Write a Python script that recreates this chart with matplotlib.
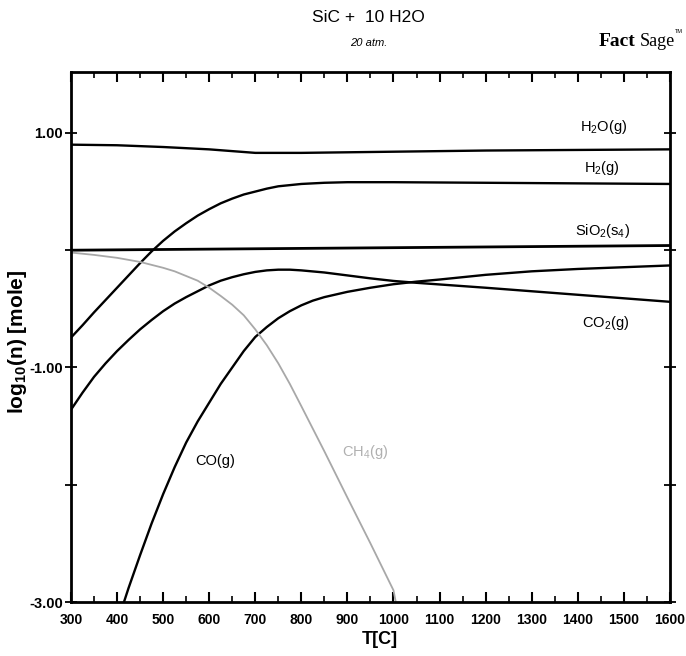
import matplotlib
matplotlib.use('Agg')
import matplotlib.pyplot as plt
from matplotlib.ticker import MultipleLocator

plt.rcParams['font.family'] = ['Liberation Sans', 'DejaVu Sans']
plt.rcParams['mathtext.default'] = 'regular'

# Equilibrium amounts, log10(n) vs temperature
T_h2o = [300, 400, 500, 600, 650, 700, 800, 900, 1000, 1200, 1400, 1600]
h2o = [0.90, 0.895, 0.88, 0.86, 0.845, 0.83, 0.83, 0.835, 0.84, 0.85, 0.855, 0.86]

T_h2 = [300, 325, 350, 375, 400, 425, 450, 475, 500, 525, 550, 575, 600, 625, 650, 675,
        700, 725, 750, 775, 800, 850, 900, 1000, 1200, 1400, 1600]
h2 = [-0.745, -0.64, -0.53, -0.425, -0.32, -0.215, -0.11, -0.01, 0.08, 0.16, 0.23, 0.295,
      0.35, 0.40, 0.44, 0.475, 0.50, 0.525, 0.545, 0.555, 0.565, 0.575, 0.58, 0.58, 0.575,
      0.57, 0.565]

T_sio2 = [300, 1600]
sio2 = [0.0, 0.04]

T_co2 = [300, 325, 350, 375, 400, 425, 450, 475, 500, 525, 550, 575, 600, 625, 650, 675,
         700, 725, 750, 775, 800, 850, 900, 950, 1000, 1050, 1100, 1200, 1300, 1400, 1500, 1600]
co2 = [-1.36, -1.215, -1.08, -0.965, -0.86, -0.765, -0.675, -0.595, -0.52, -0.455, -0.40, -0.35,
       -0.30, -0.26, -0.23, -0.205, -0.185, -0.172, -0.166, -0.166, -0.172, -0.19, -0.215,
       -0.24, -0.262, -0.278, -0.292, -0.32, -0.35, -0.38, -0.41, -0.44]

T_co = [415, 425, 450, 475, 500, 525, 550, 575, 600, 625, 650, 675, 700, 725, 750, 775,
        800, 825, 850, 900, 950, 1000, 1050, 1100, 1200, 1300, 1400, 1500, 1600]
co = [-3.0, -2.88, -2.6, -2.33, -2.08, -1.85, -1.64, -1.46, -1.30, -1.14, -1.00, -0.86,
      -0.74, -0.655, -0.58, -0.52, -0.47, -0.43, -0.40, -0.355, -0.32, -0.29, -0.268,
      -0.25, -0.21, -0.18, -0.16, -0.145, -0.13]

T_ch4 = [300, 350, 400, 450, 500, 525, 550, 575, 600, 625, 650, 675, 700, 725, 750, 775,
         800, 850, 900, 950, 1000, 1005]
ch4 = [-0.02, -0.04, -0.065, -0.10, -0.15, -0.18, -0.22, -0.26, -0.32, -0.39, -0.465, -0.555,
       -0.675, -0.81, -0.965, -1.14, -1.33, -1.715, -2.11, -2.50, -2.90, -3.0]

fig = plt.figure(figsize=(6.86, 6.56), dpi=100)
ax = fig.add_axes([0.1035, 0.0823, 0.873, 0.808])

ax.plot(T_h2o, h2o, color='black', lw=1.7)
ax.plot(T_h2, h2, color='black', lw=1.7)
ax.plot(T_sio2, sio2, color='black', lw=2.0)
ax.plot(T_co2, co2, color='black', lw=1.7)
ax.plot(T_co, co, color='black', lw=1.7)
ax.plot(T_ch4, ch4, color='#a8a8a8', lw=1.3)

ax.set_xlim(300, 1600)
ax.set_ylim(-3.0, 1.52)

ax.xaxis.set_major_locator(MultipleLocator(100))
ax.xaxis.set_minor_locator(MultipleLocator(50))
ax.set_yticks([1, 0, -1, -2, -3])
ax.set_yticklabels(['1.00', '', '-1.00', '', '-3.00'])
ax.tick_params(axis='x', which='both', direction='in', top=True, labelsize=10, pad=8)
ax.tick_params(axis='x', which='major', length=7, width=1.5)
ax.tick_params(axis='x', which='minor', length=4, width=1.2)
ax.tick_params(axis='y', which='major', direction='inout', right=True, length=8, width=1.3,
               labelsize=10.5, pad=2)
for lab in ax.get_xticklabels() + ax.get_yticklabels():
    lab.set_fontweight('bold')

for sp in ax.spines.values():
    sp.set_linewidth(2.0)

ax.set_xlabel('T[C]', fontsize=13, fontweight='bold', labelpad=2)
ax.xaxis.set_label_coords(0.515, -0.055)
ax.set_ylabel('log$_{10}$(n) [mole]', fontsize=15, fontweight='bold')
ax.yaxis.set_label_coords(-0.07, 0.49)

# species labels
ax.text(1455, 1.05, 'H$_2$O(g)', fontsize=10.5, ha='center', va='center')
ax.text(1452, 0.70, 'H$_2$(g)', fontsize=10.5, ha='center', va='center')
ax.text(1453, 0.16, 'SiO$_2$(s$_4$)', fontsize=10.5, ha='center', va='center')
ax.text(1460, -0.62, 'CO$_2$(g)', fontsize=10.5, ha='center', va='center')
ax.text(614, -1.80, 'CO(g)', fontsize=10.5, ha='center', va='center')
ax.text(938, -1.72, 'CH$_4$(g)', fontsize=10.5, ha='center', va='center', color='#b0b0b0')

# heading and logo
fig.text(0.537, 0.974, 'SiC +  10 H2O', fontsize=12.5, ha='center', va='center')
fig.text(0.537, 0.934, '20 atm.', fontsize=8, ha='center', va='center', style='italic')
fig.text(0.872, 0.936, 'Fact', fontsize=14, ha='left', va='center', fontweight='bold',
         family='Liberation Serif')
fig.text(0.932, 0.936, 'Sage', fontsize=13, ha='left', va='center',
         family='Liberation Serif')
fig.text(0.984, 0.952, 'TM', fontsize=4, ha='left', va='center')

fig.savefig('out.png', dpi=100)
